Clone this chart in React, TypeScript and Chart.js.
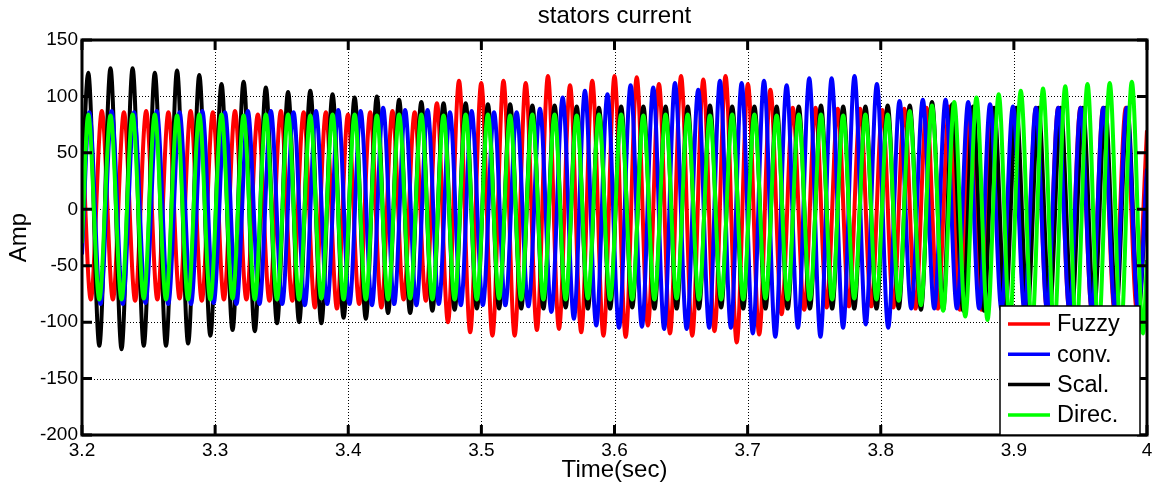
import React, { useEffect, useRef } from "react";
import { Chart, registerables } from "chart.js";

Chart.register(...registerables);

const FONT = '"Liberation Sans", Arial, Helvetica, sans-serif';

const seriesNames = ["Fuzzy", "conv.", "Scal.", "Direc."];
const seriesColors = ["#ff0000", "#0000ff", "#000000", "#00ff00"];

const xTicks = [3.2, 3.3, 3.4, 3.5, 3.6, 3.7, 3.8, 3.9, 4.0];
const xTickLabels = ["3.2", "3.3", "3.4", "3.5", "3.6", "3.7", "3.8", "3.9", "4"];
const yTicks = [-200, -150, -100, -50, 0, 50, 100, 150];
const yTickLabels = ["-200", "-150", "-100", "-50", "0", "50", "100", "150"];

// Fuzzy (red): successive turning points (time in s) and their values (A)
const fuzzyT = [
  3.2000, 3.2066,
  3.2149, 3.2232, 3.2315, 3.2399, 3.2482, 3.2566, 3.2649, 3.2733, 3.2816, 3.2900,
  3.2983, 3.3066, 3.3149, 3.3235, 3.3321, 3.3408, 3.3494, 3.3580, 3.3665, 3.3749,
  3.3832, 3.3915, 3.3998, 3.4082, 3.4165, 3.4249, 3.4332, 3.4416, 3.4499, 3.4583,
  3.4666, 3.4749, 3.4832, 3.4916, 3.4999, 3.5083, 3.5166, 3.5250, 3.5333, 3.5417,
  3.5500, 3.5583, 3.5666, 3.5750, 3.5833, 3.5917, 3.6000, 3.6084, 3.6167, 3.6251,
  3.6334, 3.6417, 3.6500, 3.6584, 3.6667, 3.6751, 3.6834, 3.6918, 3.7002, 3.7087,
  3.7171, 3.7255, 3.7339, 3.7425, 3.7510, 3.7594, 3.7677, 3.7761, 3.7845, 3.7929,
  3.8012, 3.8095, 3.8177, 3.8261, 3.8344, 3.8429, 3.8514, 3.8594, 3.8674, 3.8756,
  3.8837, 3.8918, 3.8999, 3.9083, 3.9166, 3.9250, 3.9333, 3.9417, 3.9500, 3.9586,
  3.9671, 3.9756, 3.9841, 3.9924,
  4.0000,
];
const fuzzyV = [
  72, -80,
  87, -80, 86, -81, 87, -80, 86, -79, 87, -81,
  86, -80, 87, -80, 84, -81, 87, -81, 86, -87,
  86, -88, 84, -84, 86, -87, 87, -80, 86, -81,
  94, -100, 114, -109, 112, -112, 114, -112, 112, -107,
  118, -106, 110, -109, 114, -112, 118, -113, 117, -103,
  111, -110, 118, -112, 115, -108, 118, -118, 111, -111,
  106, -93, 90, -89, 90, -87, 89, -86, 89, -86,
  88, -87, 89, -88, 90, -88, 91, -89, 90, -89,
  90, -90, 90, -90, 90, -90, 90, -90, 90, -90,
  90, -90, 90, -90,
  70,
];

// conv. (blue)
const convT = [
  3.2000,
  3.2055, 3.2139, 3.2223, 3.2307, 3.2391, 3.2477, 3.2562, 3.2648, 3.2733, 3.2819,
  3.2904, 3.2989, 3.3074, 3.3160, 3.3246, 3.3333, 3.3419, 3.3504, 3.3589, 3.3674,
  3.3758, 3.3842, 3.3925, 3.4009, 3.4093, 3.4178, 3.4262, 3.4345, 3.4427, 3.4512,
  3.4596, 3.4680, 3.4764, 3.4846, 3.4927, 3.5011, 3.5095, 3.5180, 3.5265, 3.5353,
  3.5440, 3.5526, 3.5611, 3.5695, 3.5778, 3.5863, 3.5947, 3.6034, 3.6121, 3.6206,
  3.6291, 3.6373, 3.6454, 3.6542, 3.6629, 3.6711, 3.6792, 3.6874, 3.6955, 3.7039,
  3.7123, 3.7208, 3.7293, 3.7378, 3.7463, 3.7547, 3.7631, 3.7717, 3.7803, 3.7887,
  3.7971, 3.8056, 3.8141, 3.8229, 3.8316, 3.8402, 3.8487, 3.8572, 3.8657, 3.8739,
  3.8821, 3.8907, 3.8993, 3.9079, 3.9165, 3.9249, 3.9333, 3.9417, 3.9501, 3.9586,
  3.9671, 3.9760, 3.9848, 3.9933,
  4.0000,
];
const convV = [
  -40,
  86, -84, 87, -84, 86, -83, 87, -84, 86, -84,
  87, -83, 86, -84, 87, -84, 87, -84, 86, -85,
  87, -84, 88, -84, 87, -85, 90, -84, 88, -85,
  88, -84, 86, -85, 87, -85, 86, -85, 86, -86,
  89, -91, 99, -97, 105, -103, 102, -105, 110, -104,
  108, -106, 112, -106, 106, -105, 114, -105, 112, -110,
  114, -113, 110, -105, 116, -113, 116, -105, 118, -102,
  111, -105, 96, -88, 97, -88, 97, -88, 95, -88,
  93, -89, 91, -89, 90, -90, 90, -90, 90, -90,
  90, -90, 90, -90,
  36,
];

// Scal. (black)
const scalT = [
  3.2000,
  3.2047, 3.2130, 3.2214, 3.2297, 3.2380, 3.2464, 3.2547, 3.2631, 3.2714, 3.2797,
  3.2881, 3.2964, 3.3048, 3.3131, 3.3214, 3.3298, 3.3381, 3.3465, 3.3548, 3.3631,
  3.3715, 3.3798, 3.3882, 3.3965, 3.4048, 3.4132, 3.4215, 3.4299, 3.4382, 3.4465,
  3.4549, 3.4632, 3.4716, 3.4799, 3.4882, 3.4966, 3.5049, 3.5133, 3.5216, 3.5299,
  3.5383, 3.5466, 3.5550, 3.5633, 3.5716, 3.5800, 3.5883, 3.5967, 3.6050, 3.6133,
  3.6217, 3.6300, 3.6384, 3.6467, 3.6550, 3.6634, 3.6717, 3.6801, 3.6884, 3.6967,
  3.7051, 3.7134, 3.7218, 3.7301, 3.7384, 3.7468, 3.7551, 3.7635, 3.7718, 3.7801,
  3.7885, 3.7968, 3.8052, 3.8135, 3.8218, 3.8302, 3.8385, 3.8469, 3.8537, 3.8620,
  3.8693, 3.8776, 3.8852, 3.8935, 3.9018, 3.9102, 3.9185, 3.9269, 3.9352, 3.9435,
  3.9519, 3.9602, 3.9686, 3.9769, 3.9852, 3.9936,
  4.0000,
];
const scalV = [
  20,
  121, -121, 125, -124, 125, -121, 121, -121, 123, -119,
  119, -112, 111, -107, 113, -108, 108, -101, 104, -100,
  105, -101, 102, -96, 99, -97, 100, -92, 97, -92,
  95, -90, 94, -89, 94, -88, 93, -88, 93, -88,
  92, -88, 92, -87, 91, -88, 90, -88, 91, -87,
  91, -88, 91, -88, 91, -88, 92, -87, 91, -88,
  91, -88, 91, -88, 91, -88, 92, -88, 91, -88,
  91, -88, 92, -88, 92, -89, 95, -89, 93, -90,
  91, -90, 90, -90, 90, -90, 90, -90, 90, -90,
  90, -90, 90, -90, 90, -90,
  30,
];

// Direc. (green)
const direcT = [
  3.2000,
  3.2047, 3.2130, 3.2214, 3.2297, 3.2380, 3.2464, 3.2547, 3.2631, 3.2714, 3.2797,
  3.2881, 3.2964, 3.3048, 3.3131, 3.3214, 3.3298, 3.3381, 3.3465, 3.3548, 3.3631,
  3.3715, 3.3798, 3.3882, 3.3965, 3.4048, 3.4132, 3.4215, 3.4299, 3.4382, 3.4465,
  3.4549, 3.4632, 3.4716, 3.4799, 3.4882, 3.4966, 3.5049, 3.5133, 3.5216, 3.5299,
  3.5383, 3.5466, 3.5550, 3.5633, 3.5716, 3.5800, 3.5883, 3.5967, 3.6050, 3.6133,
  3.6217, 3.6300, 3.6384, 3.6467, 3.6550, 3.6634, 3.6717, 3.6801, 3.6884, 3.6967,
  3.7051, 3.7134, 3.7218, 3.7301, 3.7384, 3.7468, 3.7551, 3.7635, 3.7718, 3.7801,
  3.7885, 3.7968, 3.8052, 3.8135, 3.8218, 3.8302, 3.8385, 3.8469, 3.8552, 3.8635,
  3.8719, 3.8802, 3.8886, 3.8969, 3.9052, 3.9136, 3.9219, 3.9303, 3.9386, 3.9469,
  3.9553, 3.9636, 3.9720, 3.9803, 3.9886, 3.9970,
  4.0000,
];
const direcV = [
  -30,
  84, -80, 83, -80, 84, -79, 84, -80, 83, -80,
  84, -80, 84, -79, 83, -80, 84, -80, 84, -80,
  83, -79, 84, -80, 84, -80, 83, -80, 84, -79,
  84, -80, 83, -80, 84, -80, 84, -79, 83, -80,
  84, -80, 84, -80, 83, -79, 84, -80, 84, -80,
  83, -80, 84, -79, 84, -80, 83, -80, 84, -80,
  84, -79, 83, -80, 84, -80, 84, -80, 83, -79,
  84, -80, 84, -81, 87, -85, 92, -90, 95, -95,
  99, -98, 102, -101, 105, -104, 107, -106, 109, -108,
  111, -109, 112, -110, 113, -110,
  -45,
];

const seriesTimes = [fuzzyT, convT, scalT, direcT];
const seriesValues = [fuzzyV, convV, scalV, direcV];
// drawing depth: larger = further back (green on top, red at the back)
const seriesDepth = [4, 2, 3, 1];

function toPoints(ts: number[], vs: number[]) {
  const n = Math.min(ts.length, vs.length);
  const pts: { x: number; y: number }[] = [];
  for (let i = 0; i < n; i++) pts.push({ x: ts[i], y: vs[i] });
  return pts;
}

const framePlugin = {
  id: "matlabFrame",
  beforeDatasetsDraw(chart: any) {
    const { ctx, chartArea: a, scales } = chart;
    const xs = scales.x;
    const ys = scales.y;
    ctx.save();
    ctx.strokeStyle = "#000";
    ctx.lineWidth = 1;
    ctx.setLineDash([1, 2]);
    for (const v of xTicks) {
      const px = Math.round(xs.getPixelForValue(v)) + 0.5;
      if (px <= a.left + 2 || px >= a.right - 2) continue;
      ctx.beginPath();
      ctx.moveTo(px, a.top);
      ctx.lineTo(px, a.bottom);
      ctx.stroke();
    }
    for (const v of yTicks) {
      const py = Math.round(ys.getPixelForValue(v)) + 0.5;
      if (py <= a.top + 2 || py >= a.bottom - 2) continue;
      ctx.beginPath();
      ctx.moveTo(a.left, py);
      ctx.lineTo(a.right, py);
      ctx.stroke();
    }
    ctx.restore();
  },
  afterDatasetsDraw(chart: any) {
    const { ctx, chartArea: a, scales } = chart;
    const xs = scales.x;
    const ys = scales.y;
    const tl = 10;
    ctx.save();
    ctx.setLineDash([]);
    ctx.strokeStyle = "#000";
    ctx.lineWidth = 3;
    ctx.beginPath();
    ctx.rect(a.left, a.top, a.right - a.left, a.bottom - a.top);
    ctx.stroke();
    for (const v of xTicks) {
      const px = xs.getPixelForValue(v);
      ctx.beginPath();
      ctx.moveTo(px, a.bottom);
      ctx.lineTo(px, a.bottom - tl);
      ctx.moveTo(px, a.top);
      ctx.lineTo(px, a.top + tl);
      ctx.stroke();
    }
    for (const v of yTicks) {
      const py = ys.getPixelForValue(v);
      ctx.beginPath();
      ctx.moveTo(a.left, py);
      ctx.lineTo(a.left + tl, py);
      ctx.moveTo(a.right, py);
      ctx.lineTo(a.right - tl, py);
      ctx.stroke();
    }
    ctx.restore();
  },
  afterDraw(chart: any) {
    const { ctx, chartArea: a } = chart;
    const w = 140;
    const h = 129;
    const right = a.right - 7;
    const bottom = a.bottom;
    const left = right - w;
    const top = bottom - h;
    ctx.save();
    ctx.fillStyle = "#fff";
    ctx.fillRect(left, top, w, h);
    ctx.strokeStyle = "#000";
    ctx.lineWidth = 1.5;
    ctx.strokeRect(left, top, w, h);
    ctx.font = `23.5px ${FONT}`;
    ctx.textBaseline = "middle";
    ctx.textAlign = "left";
    const ds = chart.data.datasets;
    for (let i = 0; i < ds.length; i++) {
      const cy = top + 18 + i * 30.3;
      ctx.strokeStyle = ds[i].borderColor;
      ctx.lineWidth = 3.5;
      ctx.beginPath();
      ctx.moveTo(left + 8, cy);
      ctx.lineTo(left + 50, cy);
      ctx.stroke();
      ctx.fillStyle = "#000";
      ctx.fillText(ds[i].label, left + 57, cy + 1);
    }
    ctx.restore();
  },
};

export default function App() {
  const ref = useRef<HTMLCanvasElement | null>(null);
  useEffect(() => {
    if (!ref.current) return;
    const datasets = seriesNames.map((name, i) => ({
      label: name,
      data: toPoints(seriesTimes[i], seriesValues[i]),
      borderColor: seriesColors[i],
      backgroundColor: seriesColors[i],
      borderWidth: 4,
      pointRadius: 0,
      fill: false,
      cubicInterpolationMode: "monotone" as const,
      order: seriesDepth[i],
    }));
    const chart = new Chart(ref.current, {
      type: "line",
      data: { datasets },
      options: {
        animation: false,
        responsive: false,
        devicePixelRatio: 1,
        events: [],
        layout: { padding: { left: 0, right: 10, top: 0, bottom: 0 } },
        plugins: {
          legend: { display: false },
          tooltip: { enabled: false },
          title: {
            display: true,
            text: "stators current",
            color: "#000",
            fullSize: false,
            font: { family: FONT, size: 24, weight: "normal", lineHeight: 1.2 },
            padding: { top: 2, bottom: 9.2 },
          },
        },
        scales: {
          x: {
            type: "linear",
            min: 3.2,
            max: 4.0,
            afterBuildTicks: (s: any) => {
              s.ticks = xTicks.map((v) => ({ value: v }));
            },
            afterFit: (s: any) => {
              s.height = 52;
            },
            grid: { display: false, drawTicks: false },
            border: { display: false },
            ticks: {
              color: "#000",
              font: { family: FONT, size: 19 },
              padding: 4,
              maxRotation: 0,
              autoSkip: false,
              callback: (_v: any, i: number) => xTickLabels[i],
            },
            title: {
              display: true,
              text: "Time(sec)",
              color: "#000",
              font: { family: FONT, size: 24, lineHeight: 1.2 },
              padding: { top: 0, bottom: 2.3 },
            },
          },
          y: {
            type: "linear",
            min: -200,
            max: 150,
            afterBuildTicks: (s: any) => {
              s.ticks = yTicks.map((v) => ({ value: v }));
            },
            afterFit: (s: any) => {
              s.width = 82;
            },
            grid: { display: false, drawTicks: false },
            border: { display: false },
            ticks: {
              color: "#000",
              font: { family: FONT, size: 19 },
              padding: 4,
              autoSkip: false,
              callback: (_v: any, i: number) => yTickLabels[i],
            },
            title: {
              display: true,
              text: "Amp",
              color: "#000",
              font: { family: FONT, size: 24, lineHeight: 1.2 },
              padding: { top: 5, bottom: 0 },
            },
          },
        },
      },
      plugins: [framePlugin],
    } as any);
    return () => chart.destroy();
  }, []);
  return (
    <div style={{ position: "absolute", left: 0, top: 0, width: 1157, height: 487, background: "#fff" }}>
      <canvas ref={ref} width={1157} height={487} style={{ display: "block", width: 1157, height: 487 }} />
    </div>
  );
}
